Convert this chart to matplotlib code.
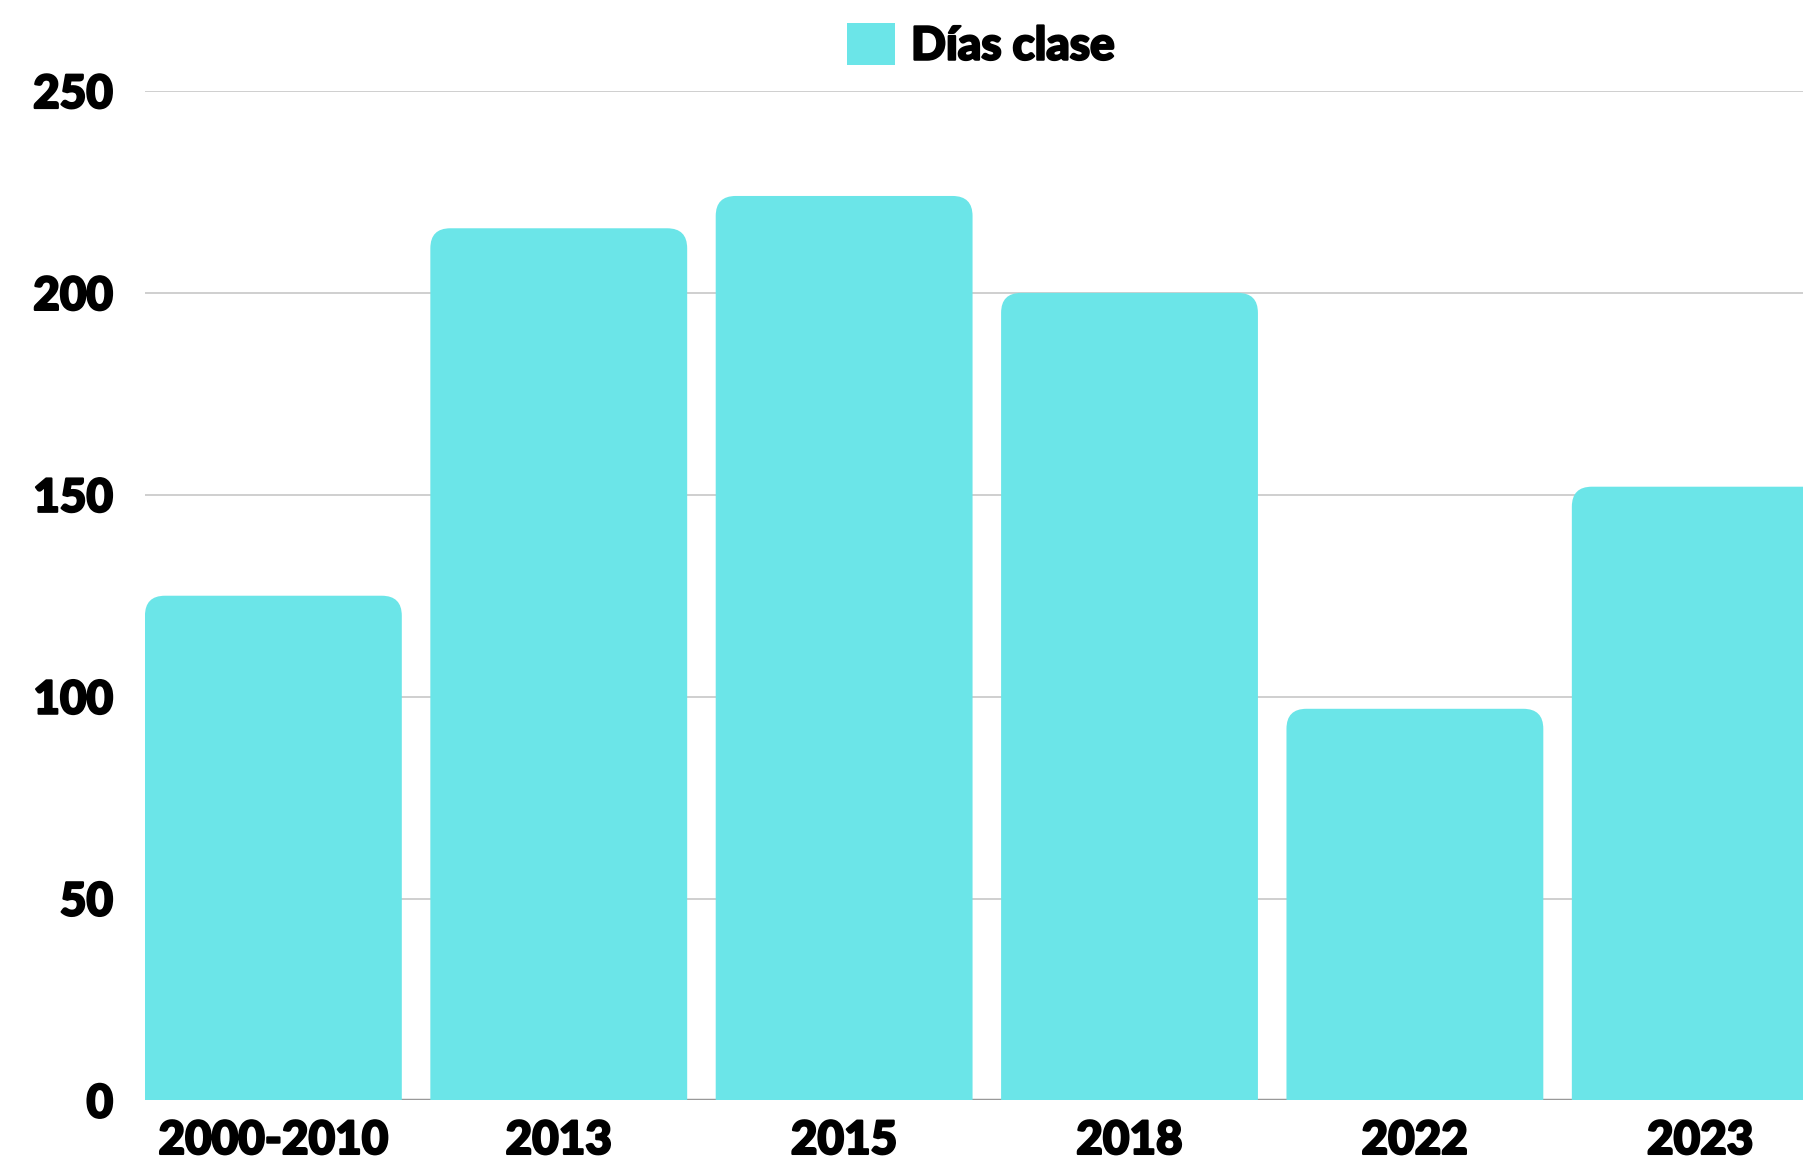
import matplotlib
matplotlib.use("Agg")
import matplotlib.pyplot as plt
from matplotlib.path import Path
from matplotlib.patches import PathPatch
import matplotlib.patheffects as pe
import numpy as np

# datos del gráfico
categorias = ["2000-2010", "2013", "2015", "2018", "2022", "2023"]
dias_clase = [125, 216, 224, 200, 97, 152]
ticks_y = [0, 50, 100, 150, 200, 250]

color_barra = "#6be5e8"
fuente = ["Lato", "DejaVu Sans"]

plt.rcParams["font.family"] = fuente

fig = plt.figure(figsize=(18.03, 11.59), dpi=100)
ax = fig.add_axes([0.0804, 0.0505, 0.9196, 0.871])

x = np.arange(len(categorias))
barras = ax.bar(x, dias_clase, width=0.9, color=color_barra, label="Días clase")
ax.set_xlim(-0.45, 5.36)
ax.set_ylim(0, 250)

# reemplazar rectángulos por barras con esquinas superiores redondeadas
fig.canvas.draw()
p0 = ax.transData.transform((0, 0))
p1 = ax.transData.transform((1, 1))
px_x = p1[0] - p0[0]
px_y = p1[1] - p0[1]
r = 20  # radio en píxeles
rx, ry = r / px_x, r / px_y
for b in barras:
    x0, w, h = b.get_x(), b.get_width(), b.get_height()
    verts = [(x0, 0), (x0, h - ry), (x0, h), (x0 + rx, h),
             (x0 + w - rx, h), (x0 + w, h), (x0 + w, h - ry),
             (x0 + w, 0), (x0, 0)]
    codes = [Path.MOVETO, Path.LINETO, Path.CURVE3, Path.CURVE3,
             Path.LINETO, Path.CURVE3, Path.CURVE3,
             Path.LINETO, Path.CLOSEPOLY]
    parche = PathPatch(Path(verts, codes), facecolor=color_barra,
                       edgecolor="none", zorder=3)
    ax.add_patch(parche)
    b.set_visible(False)

for s in ax.spines.values():
    s.set_visible(False)
ax.axhline(0, color="#999999", lw=2.5, zorder=2)
ax.set_yticks(ticks_y)
ax.yaxis.grid(True, color="#cccccc", lw=1.3, zorder=0)
ax.set_axisbelow(True)

# trazo extra para que la letra se vea más gruesa
grueso = [pe.withStroke(linewidth=1.6, foreground="black")]

ax.set_xticks(x)
ax.set_xticklabels(categorias)
ax.tick_params(axis="both", length=0, labelsize=33)
ax.tick_params(axis="y", pad=23)
ax.tick_params(axis="x", pad=14)
for t in ax.get_xticklabels() + ax.get_yticklabels():
    t.set_fontweight("black")
    t.set_path_effects(grueso)

handle = plt.Rectangle((0, 0), 1, 1, facecolor=color_barra, edgecolor="none")
leg = fig.legend([handle], ["Días clase"], loc="center",
                 bbox_to_anchor=(0.544, 0.961), frameon=False,
                 handlelength=1.05, handleheight=1.05, handletextpad=0.35,
                 prop={"family": fuente, "weight": "black", "size": 33})
for t in leg.get_texts():
    t.set_path_effects(grueso)

fig.savefig("out.png", dpi=100)
